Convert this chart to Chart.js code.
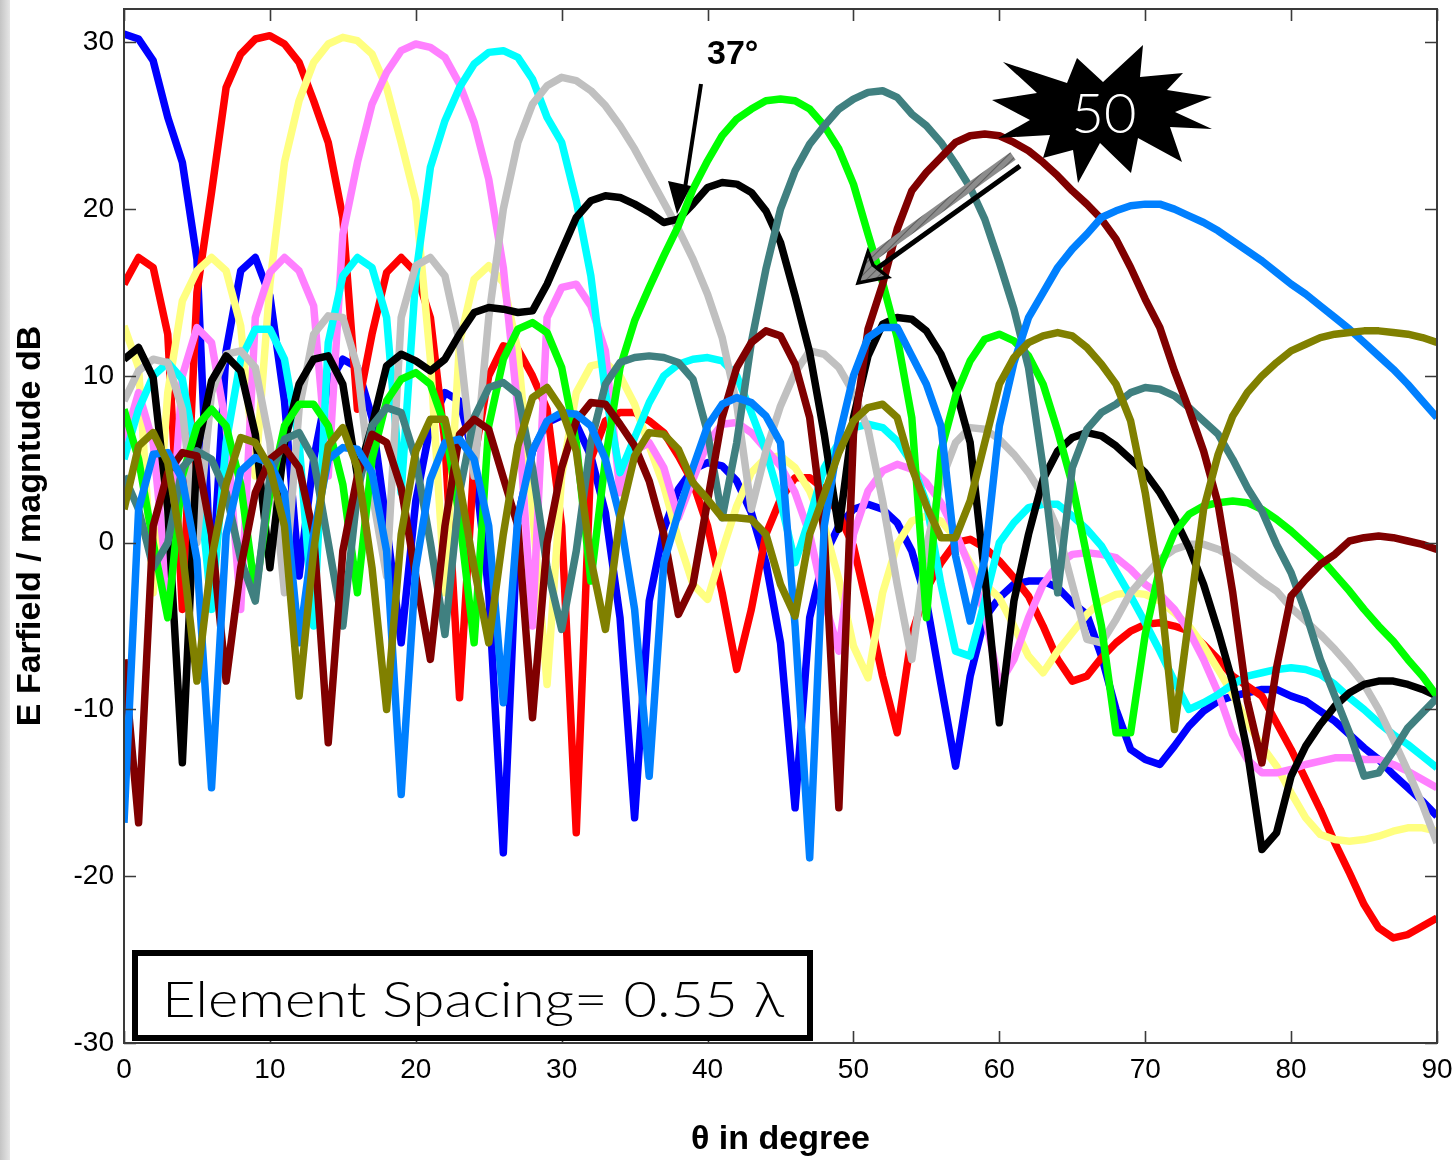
<!DOCTYPE html>
<html>
<head>
<meta charset="utf-8">
<script src="https://cdn.jsdelivr.net/npm/chart.js@4.4.1/dist/chart.umd.min.js"></script>
<style>
  html, body { margin: 0; padding: 0; background: #ffffff; }
  #wrap { position: relative; width: 1456px; height: 1160px; overflow: hidden; }
  #strip { position: absolute; left: 0; top: 0; width: 10px; height: 1160px;
           background: linear-gradient(to right, #c4c4c4, #e6e6e6); }
  #c { position: absolute; left: 0; top: 0; }
  #ov { position: absolute; left: 0; top: 0; pointer-events: none; }
</style>
</head>
<body>
<div id="wrap">
  <div id="strip"></div>
  <canvas id="c" width="1456" height="1160"></canvas>
  <svg id="ov" width="1456" height="1160" xmlns="http://www.w3.org/2000/svg">
    <defs>
      <pattern id="hatch" patternUnits="userSpaceOnUse" width="6" height="6" patternTransform="rotate(45)">
        <rect width="6" height="6" fill="#8c8c8c"/>
        <line x1="0" y1="0" x2="0" y2="6" stroke="#3e3e3e" stroke-width="1.3"/>
      </pattern>
    </defs>
    <!-- 37 degree label and arrow -->
    <text x="707" y="64" font-family="'Liberation Sans', Arial, sans-serif" font-weight="bold" font-size="34" fill="#000">37°</text>
    <line x1="701" y1="84" x2="685" y2="188" stroke="#000" stroke-width="4"/>
    <polygon points="677,214 668,181 691,186" fill="#000"/>
    <!-- starburst -->
    <polygon fill="#000" points="1077,58 1103,82 1143,45 1140,77 1183,73 1167,90 1212,97 1175,112 1212,129 1170,127 1182,162 1138,138 1131,173 1100,143 1078,183 1073,150 1043,158 1050,135 998,138 1030,120 992,100 1037,93 1003,62 1067,83"/>
    <text x="1104" y="133" text-anchor="middle" font-family="Lato, 'DejaVu Sans', sans-serif" font-weight="300" font-size="56" fill="#fff">50</text>
    <!-- gray 3D arrow -->
    <line x1="1020" y1="166" x2="872" y2="272" stroke="#000" stroke-width="5"/>
    <line x1="1013" y1="156" x2="867" y2="261" stroke="url(#hatch)" stroke-width="9"/>
    <polygon points="858,283 868,252 873,265 888,277" fill="url(#hatch)" stroke="#000" stroke-width="3.5" stroke-linejoin="miter"/>
    <!-- element spacing box -->
    <rect x="135" y="953" width="675" height="85" fill="#fff" stroke="#000" stroke-width="6"/>
    <text x="162" y="1017" font-family="Lato, 'DejaVu Sans', sans-serif" font-weight="300" font-size="50" fill="#000" textLength="622" lengthAdjust="spacingAndGlyphs">Element Spacing= 0.55 λ</text>
  </svg>
</div>
<script>
// ---------- data ----------
const theta = [0,1,2,3,4,5,6,7,8,9,10,11,12,13,14,15,16,17,18,19,20,21,22,23,24,25,26,27,28,29,30,31,32,33,34,35,36,37,38,39,40,41,42,43,44,45,46,47,48,49,50,51,52,53,54,55,56,57,58,59,60,61,62,63,64,65,66,67,68,69,70,71,72,73,74,75,76,77,78,79,80,81,82,83,84,85,86,87,88,89,90];

const xTicks = [0,10,20,30,40,50,60,70,80,90];
const yTicks = [-30,-20,-10,0,10,20,30];

const blueVals = [30.5,30.2,28.9,25.5,22.8,17,-3,11.5,16.3,17.1,
14.8,8.5,-2,5,9.5,11,10.5,7.5,1,-6,
2.5,7,9,8.5,5,-3,-18.6,1.5,5.5,7.2,
7.6,7.1,5.2,1.8,-4.5,-16.5,-3.5,0.8,3.2,4.4,
4.8,4.6,3.7,1.8,-1.2,-6,-15.9,-4.5,-0.8,1,
2,2.3,2,1.2,-0.5,-3.5,-8.5,-13.4,-8,-4.5,
-3.3,-2.5,-2.3,-2.3,-2.7,-3.6,-4.3,-6.8,-10,-12.4,
-13,-13.3,-12.2,-11,-10.1,-9.5,-9.2,-9,-8.8,-8.8,
-9.2,-9.5,-10.1,-10.7,-11.5,-12.3,-13,-13.9,-14.7,-15.5,
-16.4];

const redVals = [15.5,17.1,16.5,12.5,-4,15,21,27.3,29.3,30.2,
30.4,29.9,28.8,26.5,24,19.5,8,12.5,16.2,17.1,
16.2,13.5,6,-9.3,5,10,11.8,11.6,10,8,
1,-17.4,5,7.3,7.8,7.8,7.3,6.6,5.2,3.6,
1,-3,-7.6,-4,0.5,2.6,3.9,3.9,3.2,1.7,
-0.2,-4,-8,-11.4,-5.5,-2.8,-1.2,0,0.2,-0.3,
-1.1,-2.1,-3.2,-5,-7,-8.3,-8,-6.9,-6,-5.3,
-4.9,-4.8,-5,-5.3,-6.1,-7,-8,-8.6,-9.2,-10.8,
-12.4,-14.2,-16,-18,-19.8,-21.7,-23.1,-23.7,-23.5,-23,
-22.5];

const yellowVals = [13,10.5,-3,9,14.5,16.3,17.1,16.3,13,4,
15.5,22.8,26.5,28.8,29.9,30.3,30.1,29.3,27.3,24,
20.5,11,-3,12,15.8,16.6,15.6,11.5,2,-8.5,
4,9,10.6,10.8,10,8.3,5.8,3.4,0.2,-2.5,
-3.4,-0.5,2.2,4.2,5.1,5.2,4.5,3.1,1,-2.2,
-6.2,-8.1,-3,-0.1,1.3,1.6,1.3,0.3,-1.2,-2.5,
-3.3,-5,-6.8,-7.8,-6.5,-5.4,-4.3,-3.5,-3.1,-3,
-3.1,-3.5,-4.2,-5,-6.2,-7.6,-9.1,-10.8,-12.2,-13.4,
-15,-16.5,-17.5,-17.8,-17.9,-17.8,-17.6,-17.3,-17.1,-17.1,
-17.3];

const violetVals = [6,9,6,-3,10,12.9,12,7,-4,13.5,
16.2,17.1,16.3,14.2,4,18.5,22.8,26.3,28.2,29.5,
29.9,29.7,29.1,27.5,25.2,21.8,16.5,8,-5,13.5,
15.3,15.5,14.2,11.5,3,5.5,6,4.5,1.5,3.8,
6,7.1,7.2,6.6,5.6,4.6,3,0.5,-3.5,-6.5,
0.5,3.1,4.3,4.7,4.4,3.6,2.4,0.6,-1.5,-4.3,
-8.5,-7,-4.5,-2.5,-1.3,-0.7,-0.6,-0.7,-0.9,-1.6,
-2.5,-3.1,-4,-5.3,-7,-9,-11.5,-13,-13.8,-13.8,
-13.6,-13.3,-13.1,-12.9,-12.9,-13,-13,-13.3,-13.7,-14.2,
-14.7];

const cyanVals = [5,8,10,10.8,9.8,5,-4,6,11,12.8,
12.8,11,6,-5,12,16,17.1,16.5,13.5,3,
16,22.5,25.3,27.3,28.7,29.4,29.5,29.1,27.8,25.5,
24,20.5,16,9,4.2,6.3,8.4,10,10.7,11,
11.1,10.9,10,7.8,5.5,2.5,-1.2,1.5,4.5,6,
6.9,7.1,6.9,6.1,4.8,2.4,-2.5,-6.5,-6.8,-3.5,
0,1.2,2.1,2.3,2.3,1.6,0.8,-0.2,-1.7,-3.2,
-4.8,-6.5,-8.3,-10,-9.6,-9.1,-8.5,-8,-7.8,-7.6,
-7.5,-7.6,-7.9,-8.5,-9.3,-10,-10.8,-11.5,-12.1,-12.8,
-13.5];

const silverVals = [8.5,10.3,11,10.8,8,0,9,11.3,11.5,10.5,
6,-3,8,12.5,13.6,13.5,10.5,3,-2,13.5,
16.6,17.1,16,12,4,13.5,20,24,26.3,27.4,
27.9,27.7,27.1,26.2,25,23.6,22,20.4,18.8,17,
14.9,12.3,8.3,2,5.5,8.2,10.2,11.5,11.3,10.5,
9,6.8,2.5,-2.5,-7,-0.3,3.7,6,6.9,6.8,
6.2,5.3,4.2,2.8,0.8,-2.5,-5.8,-6,-4.6,-3,
-2,-1,-0.4,-0.1,-0.1,-0.4,-0.9,-1.6,-2.3,-2.9,
-3.9,-4.7,-5.5,-6.4,-7.4,-8.5,-10,-11.8,-13.7,-15.7,
-18];

const blackVals = [11,11.7,9.9,2,-13.2,5.5,9.7,11.2,10.3,6.5,
-1.5,6,9.5,11,11.2,9.5,4,7,10.6,11.3,
10.9,10.3,11,12.5,13.8,14.1,14,13.8,13.9,15.5,
17.5,19.5,20.5,20.8,20.7,20.3,19.8,19.2,19.4,20.3,
21.3,21.6,21.5,21,19.9,18,14.8,11.4,6.5,0.8,
7.5,11.2,13.1,13.5,13.4,12.7,11.3,9.2,6,-2,
-10.8,-3.5,0.5,3.8,5.5,6.3,6.6,6.4,5.8,5,
4.2,3,1.5,-0.3,-2.5,-5.3,-8.4,-12.5,-18.4,-17.4,
-14,-12.2,-10.9,-9.8,-9,-8.5,-8.3,-8.3,-8.5,-8.8,
-9.2];

const greenVals = [8,5,0,-4.5,4,7,8,7,3.5,-3,
3,7,8.3,8.3,7,3.5,-3,5,8.5,9.8,
10.2,9.5,7,1.5,-6,7,11,12.8,13.2,12.6,
10.5,6,-2.3,5,10.5,13.3,15.3,17.2,19,21.2,
22.9,24.4,25.4,26,26.5,26.6,26.5,26,25,23.6,
21.5,18.5,15.6,12.3,7.5,-4.5,5.5,8.8,10.9,12.2,
12.5,12.1,11.2,9.5,6.7,3.5,-0.8,-5,-11.4,-11.4,
-5.5,-1.5,0.6,1.7,2.2,2.4,2.5,2.4,2,1.4,
0.7,-0.1,-0.9,-1.9,-2.9,-4,-5,-5.9,-7,-8,
-9.2];

const tealVals = [4,2,-1.5,0,4.5,5.5,5,3,-1,-3.5,
4,6.2,6.6,5,0,-5,3,7,8.1,7.8,
5,0,-5.5,3,7.5,9.3,9.6,8.9,4.5,-1.5,
-5.2,-0.5,6,9.5,10.8,11.1,11.2,11.1,10.8,9.8,
6.6,1.5,6,12,16.4,20,22.3,23.9,25,26,
26.6,27,27.1,26.7,25.7,25,24,22.7,21.3,19.4,
16.8,14,10.5,4.5,-3,4.5,6.8,7.8,8.3,9,
9.3,9.2,8.8,8.1,7.3,6.5,5,3.3,1.9,-0.1,
-1.8,-4.2,-7,-9.2,-11.4,-14,-13.8,-12.5,-11.1,-10.2,
-9.3];

const maroonVals = [-7,-16.8,1,4.2,5.4,5.2,0.5,-8.3,-1.5,3,
5,5.7,4.5,0.5,-12,-0.5,4,6.5,6,3.3,
-2,-7,1,6.5,7.4,6.8,3.9,1,-10.5,0,
4.5,7.3,8.4,8.3,7.1,5.8,3.7,0.5,-4.3,-2.5,
2.5,7.5,10.5,12,12.7,12.4,10.7,7.5,0.5,-15.9,
6.5,12.8,15.5,18.8,21.1,22.2,23.1,24,24.4,24.5,
24.4,24,23.5,22.8,22,21.1,20.3,19.4,18.2,16.5,
14.6,12.9,10.3,8,5.5,2.3,-3,-9.5,-13.2,-7.5,
-3.2,-2.2,-1.3,-0.7,0.1,0.3,0.4,0.3,0.1,-0.1,
-0.4];

const dodgerVals = [-16.8,2,5.3,5.4,3.8,-1,-14.7,0.5,4.3,5.1,
4.8,3,-6,0.5,5,5.7,5.6,4.2,-0.5,-15.1,
-1.5,3.8,6,6.2,5,1,-9.6,1.5,5.5,7.3,
7.8,7.7,7,5,1.5,-4,-14,-1.2,1.8,4.5,
7,8.3,8.7,8.4,7.6,6,-5,-18.9,1,6.3,
10,12.3,12.9,12.9,11.2,9.5,7,-0.8,-4.7,-1,
7,10.8,13.5,15,16.5,17.6,18.5,19.5,19.9,20.2,
20.3,20.3,20,19.6,19.2,18.7,18.1,17.5,16.9,16.2,
15.5,14.9,14.2,13.5,12.8,12,11.2,10.4,9.5,8.5,
7.5];

const oliveVals = [2,5.8,6.6,4.8,-0.5,-8.3,-1,3.5,6.3,6,
4.5,1,-9.2,-0.5,5.8,6.9,4.5,-1.5,-10,0.5,
5.5,7.4,7.4,3.5,-1.5,-6,0.5,5.8,8.7,9.3,
8,5.5,-1,-5.2,1.5,5.2,6.6,6.5,5.6,3.6,
2.6,1.5,1.5,1.4,0.5,-2.5,-4.4,0.5,2.9,5.4,
7.3,8.1,8.3,7.5,4.5,2.2,0.3,0.3,2.5,6,
9.5,11.1,12,12.4,12.6,12.4,11.7,10.7,9.5,7.3,
3,-2.5,-11.2,-4.5,2,5.3,7.6,9,10,10.8,
11.5,11.9,12.3,12.5,12.6,12.7,12.7,12.6,12.5,12.3,
12];

const seriesNames  = ['0°','10°','15°','20°','26°','31°','37°','45°','51°','60°','70°','86°'];
const seriesColors = ['#0000FF','#FF0000','#FFFF80','#FF80FF','#00FFFF','#C0C0C0','#000000','#00FF00','#408080','#800000','#0080FF','#808000'];
const seriesValues = [blueVals, redVals, yellowVals, violetVals, cyanVals, silverVals, blackVals, greenVals, tealVals, maroonVals, dodgerVals, oliveVals];

// ---------- chart ----------
const FONT = "'Liberation Sans', Arial, Helvetica, sans-serif";
Chart.defaults.font.family = FONT;
Chart.defaults.color = '#000';

const datasets = seriesValues.map((vals, i) => ({
  label: seriesNames[i],
  data: vals.map((v, k) => ({ x: theta[k], y: v })),
  borderColor: seriesColors[i],
  backgroundColor: seriesColors[i],
  borderWidth: 7.5,
  pointRadius: 0,
  tension: 0,
  fill: false,
  clip: 0,
  borderJoinStyle: 'round',
  borderCapStyle: 'butt',
  order: seriesValues.length - i
}));

const framePlugin = {
  id: 'frame',
  afterDatasetsDraw(chart) {
    const { ctx, chartArea: a, scales: { x, y } } = chart;
    ctx.save();
    ctx.strokeStyle = '#3a3a3a';
    ctx.lineWidth = 2;
    ctx.strokeRect(a.left, a.top, a.right - a.left, a.bottom - a.top);
    ctx.lineWidth = 1.6;
    ctx.beginPath();
    xTicks.forEach(v => {
      const px = Math.round(x.getPixelForValue(v)) + 0.5;
      ctx.moveTo(px, a.bottom); ctx.lineTo(px, a.bottom - 12);
      ctx.moveTo(px, a.top); ctx.lineTo(px, a.top + 12);
    });
    yTicks.forEach(v => {
      const py = Math.round(y.getPixelForValue(v)) + 0.5;
      ctx.moveTo(a.left, py); ctx.lineTo(a.left + 12, py);
      ctx.moveTo(a.right, py); ctx.lineTo(a.right - 12, py);
    });
    ctx.stroke();
    ctx.restore();
  }
};

new Chart(document.getElementById('c'), {
  type: 'line',
  data: { datasets },
  options: {
    responsive: false,
    animation: false,
    devicePixelRatio: 1,
    layout: { padding: { left: 0, right: 19, top: 9, bottom: 0 } },
    plugins: { legend: { display: false }, tooltip: { enabled: false } },
    scales: {
      x: {
        type: 'linear', min: 0, max: 90,
        grid: { display: false, drawTicks: false },
        border: { display: false },
        afterBuildTicks: s => { s.ticks = xTicks.map(v => ({ value: v })); },
        afterFit: s => { s.height = 117; s.paddingLeft = 0; s.paddingRight = 0; },
        ticks: { autoSkip: false, maxRotation: 0, padding: 10, font: { size: 28 }, color: '#000' },
        title: { display: true, text: 'θ in degree', font: { size: 34, weight: 'bold' }, color: '#000', padding: { top: 0, bottom: 0 } }
      },
      y: {
        type: 'linear', min: -30, max: 32,
        grid: { display: false, drawTicks: false },
        border: { display: false },
        afterBuildTicks: s => { s.ticks = yTicks.map(v => ({ value: v })); },
        afterFit: s => { s.width = 124; s.paddingTop = 0; s.paddingBottom = 0; },
        ticks: { autoSkip: false, padding: 10, font: { size: 28 }, color: '#000' },
        title: { display: true, text: 'E Farfield / magntude dB', font: { size: 34, weight: 'bold' }, color: '#000', padding: { top: 10, bottom: 0 } }
      }
    }
  },
  plugins: [framePlugin]
});
</script>
</body>
</html>
